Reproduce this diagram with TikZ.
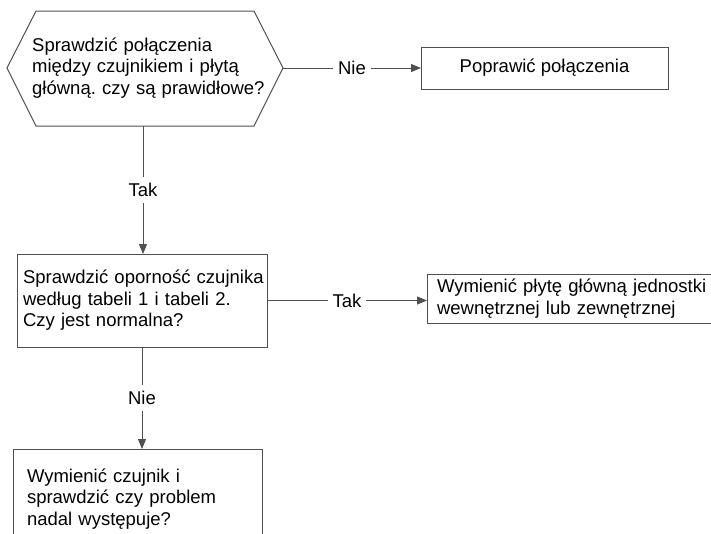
\documentclass[tikz,border=0pt]{standalone}
\usepackage{fontspec}
\setmainfont{Liberation Sans}
\usetikzlibrary{arrows.meta}
\definecolor{linegray}{HTML}{505050}
\frenchspacing
\begin{document}
\begin{tikzpicture}[x=1pt,y=-1pt,
  every node/.style={font=\fontsize{18.5}{21.5}\selectfont, text=black},
  box/.style={draw=linegray, line width=1pt, outer sep=0pt, inner ysep=0pt, align=left},
  conn/.style={draw=linegray, line width=1pt, -{Triangle[length=10pt,width=8pt]}},
  lbl/.style={fill=white, inner xsep=5pt, inner ysep=6pt}
]
\useasboundingbox (0,0) rectangle (711,533);
\clip (0,0) rectangle (711,533);

% decision: connections between sensor and main board
\coordinate (hexL)  at (7,68);
\coordinate (hexTL) at (36,11);
\coordinate (hexTR) at (254,11);
\coordinate (hexR)  at (283,68);
\coordinate (hexBR) at (254,126);
\coordinate (hexBL) at (36,126);
\coordinate (hexB)  at (143,126);
\draw[draw=linegray, line width=1pt]
  (hexL) -- (hexTL) -- (hexTR) -- (hexR) -- (hexBR) -- (hexBL) -- cycle;
\node[anchor=west, inner sep=0pt, text width=240pt, align=left] (conncheck) at (32,68)
  {Sprawdzić połączenia\\między czujnikiem i płytą\\główną. czy są prawidłowe?};

% action: fix connections
\node[box, minimum width=247pt, minimum height=42pt, align=center] (fix) at (544.5,68)
  {Poprawić połączenia};

% decision: sensor resistance
\node[box, minimum width=250pt, minimum height=93pt, text width=238pt, inner xsep=6pt]
  (rescheck) at (142,300.5)
  {\mbox{Sprawdzić oporność czujnika}\\według tabeli 1 i tabeli 2.\\Czy jest normalna?};

% action: replace main board
\node[box, minimum width=300pt, minimum height=49pt, text width=280pt, inner xsep=10pt]
  (board) at (577,298.5)
  {Wymienić płytę główną jednostki\\wewnętrznej lub zewnętrznej};

% action: replace sensor
\node[box, minimum width=249pt, minimum height=100pt, text width=221pt, inner xsep=14pt]
  (sensor) at (137.5,499)
  {Wymienić czujnik i\\sprawdzić czy problem\\nadal występuje?};

% connectors
\draw[conn] (hexR) -- node[lbl] {Nie} (fix.west);
\draw[conn] (hexB) -- node[lbl] {Tak} (hexB |- rescheck.north);
\draw[conn] (rescheck.east) -- node[lbl] {Tak} (rescheck.east -| board.west);
\draw[conn] (rescheck.south) -- node[lbl] {Nie} (rescheck.south |- sensor.north);
\end{tikzpicture}
\end{document}
